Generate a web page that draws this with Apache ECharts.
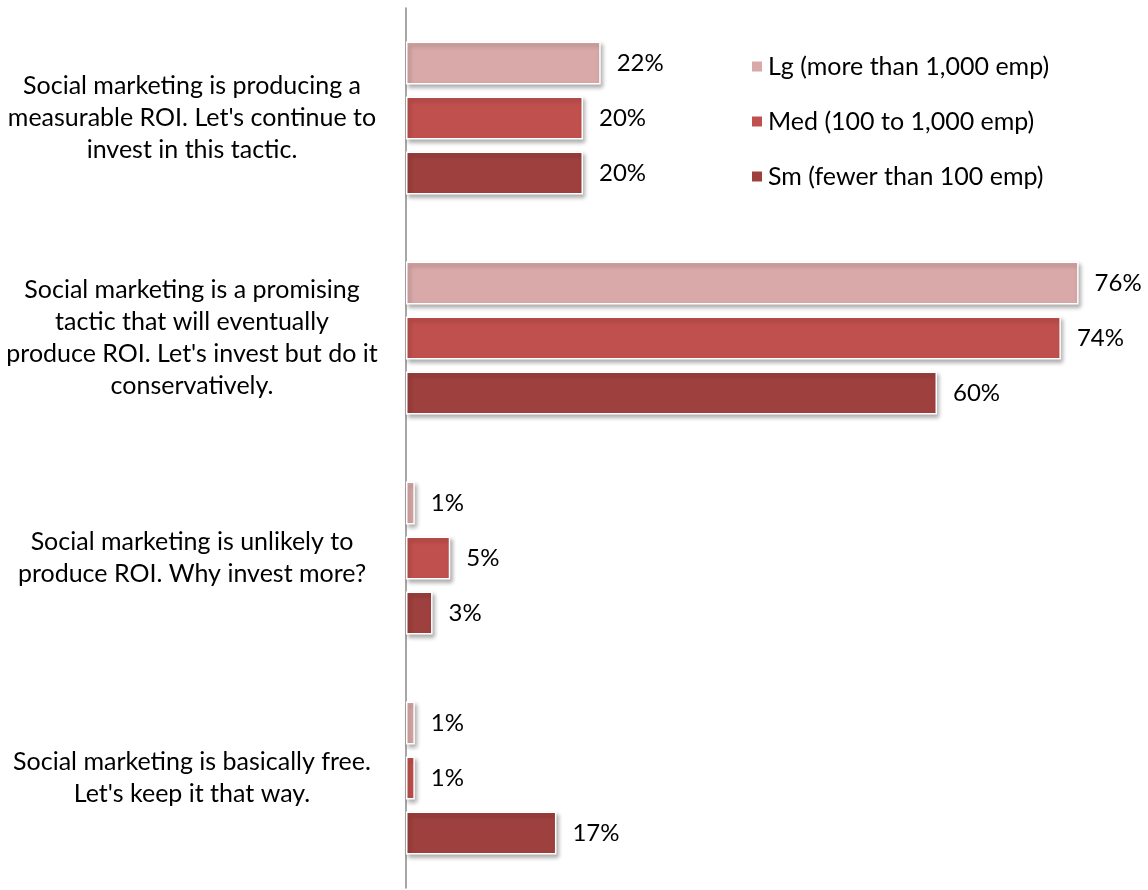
<!DOCTYPE html>
<html>
<head>
<meta charset="utf-8">
<script src="https://cdn.jsdelivr.net/npm/echarts@6/dist/echarts.min.js"></script>
<style>
  html, body { margin: 0; padding: 0; background: #fff; }
  #chart { width: 1148px; height: 890px; }
</style>
</head>
<body>
<div id="chart"></div>
<script>
// Survey statements (top to bottom)
const categories = [
  "Social marketing is producing a\nmeasurable ROI. Let's continue to\ninvest in this tactic.",
  "Social marketing is a promising\ntactic that will eventually\nproduce ROI. Let's invest but do it\nconservatively.",
  "Social marketing is unlikely to\nproduce ROI. Why invest more?",
  "Social marketing is basically free.\nLet's keep it that way."
];

// Share of respondents (%) by company size
const seriesNames = [
  "Lg (more than 1,000 emp)",
  "Med (100 to 1,000 emp)",
  "Sm (fewer than 100 emp)"
];
const largeValues = [22, 76, 1, 1];
const mediumValues = [20, 74, 5, 1];
const smallValues = [20, 60, 3, 17];

const seriesColors = ["#D9A8A8", "#C0504D", "#9E403E"];
const fontFamily = "Lato, 'Open Sans', sans-serif";

function makeSeries(name, data, color) {
  return {
    name: name,
    type: 'bar',
    data: data,
    barWidth: 43,
    barGap: '28%',
    itemStyle: {
      color: color,
      borderColor: '#ffffff',
      borderWidth: 1.5,
      shadowColor: 'rgba(0,0,0,0.3)',
      shadowBlur: 4,
      shadowOffsetX: 2,
      shadowOffsetY: 3
    },
    label: {
      show: true,
      position: 'right',
      distance: 16,
      formatter: '{c}%',
      color: '#000',
      fontSize: 24,
      fontFamily: fontFamily
    },
    emphasis: { disabled: true }
  };
}

const chart = echarts.init(document.getElementById('chart'));
chart.setOption({
  animation: false,
  backgroundColor: '#ffffff',
  grid: { left: 406, right: 34, top: 8, bottom: 2, containLabel: false },
  legend: {
    orient: 'vertical',
    left: 745,
    top: 49,
    itemWidth: 12,
    itemHeight: 12,
    itemGap: 30,
    icon: 'rect',
    textStyle: { fontSize: 25, lineHeight: 24, color: '#000', fontFamily: fontFamily },
    data: seriesNames
  },
  xAxis: {
    type: 'value',
    min: 0,
    max: 80,
    show: false
  },
  yAxis: {
    type: 'category',
    inverse: true,
    data: categories,
    axisLine: { show: true, lineStyle: { color: '#888888', width: 1.5 } },
    axisTick: { show: false },
    axisLabel: {
      align: 'center',
      margin: 214,
      color: '#000',
      fontSize: 25,
      lineHeight: 32,
      fontFamily: fontFamily
    }
  },
  series: [
    makeSeries(seriesNames[0], largeValues, seriesColors[0]),
    makeSeries(seriesNames[1], mediumValues, seriesColors[1]),
    makeSeries(seriesNames[2], smallValues, seriesColors[2])
  ]
});
</script>
</body>
</html>
